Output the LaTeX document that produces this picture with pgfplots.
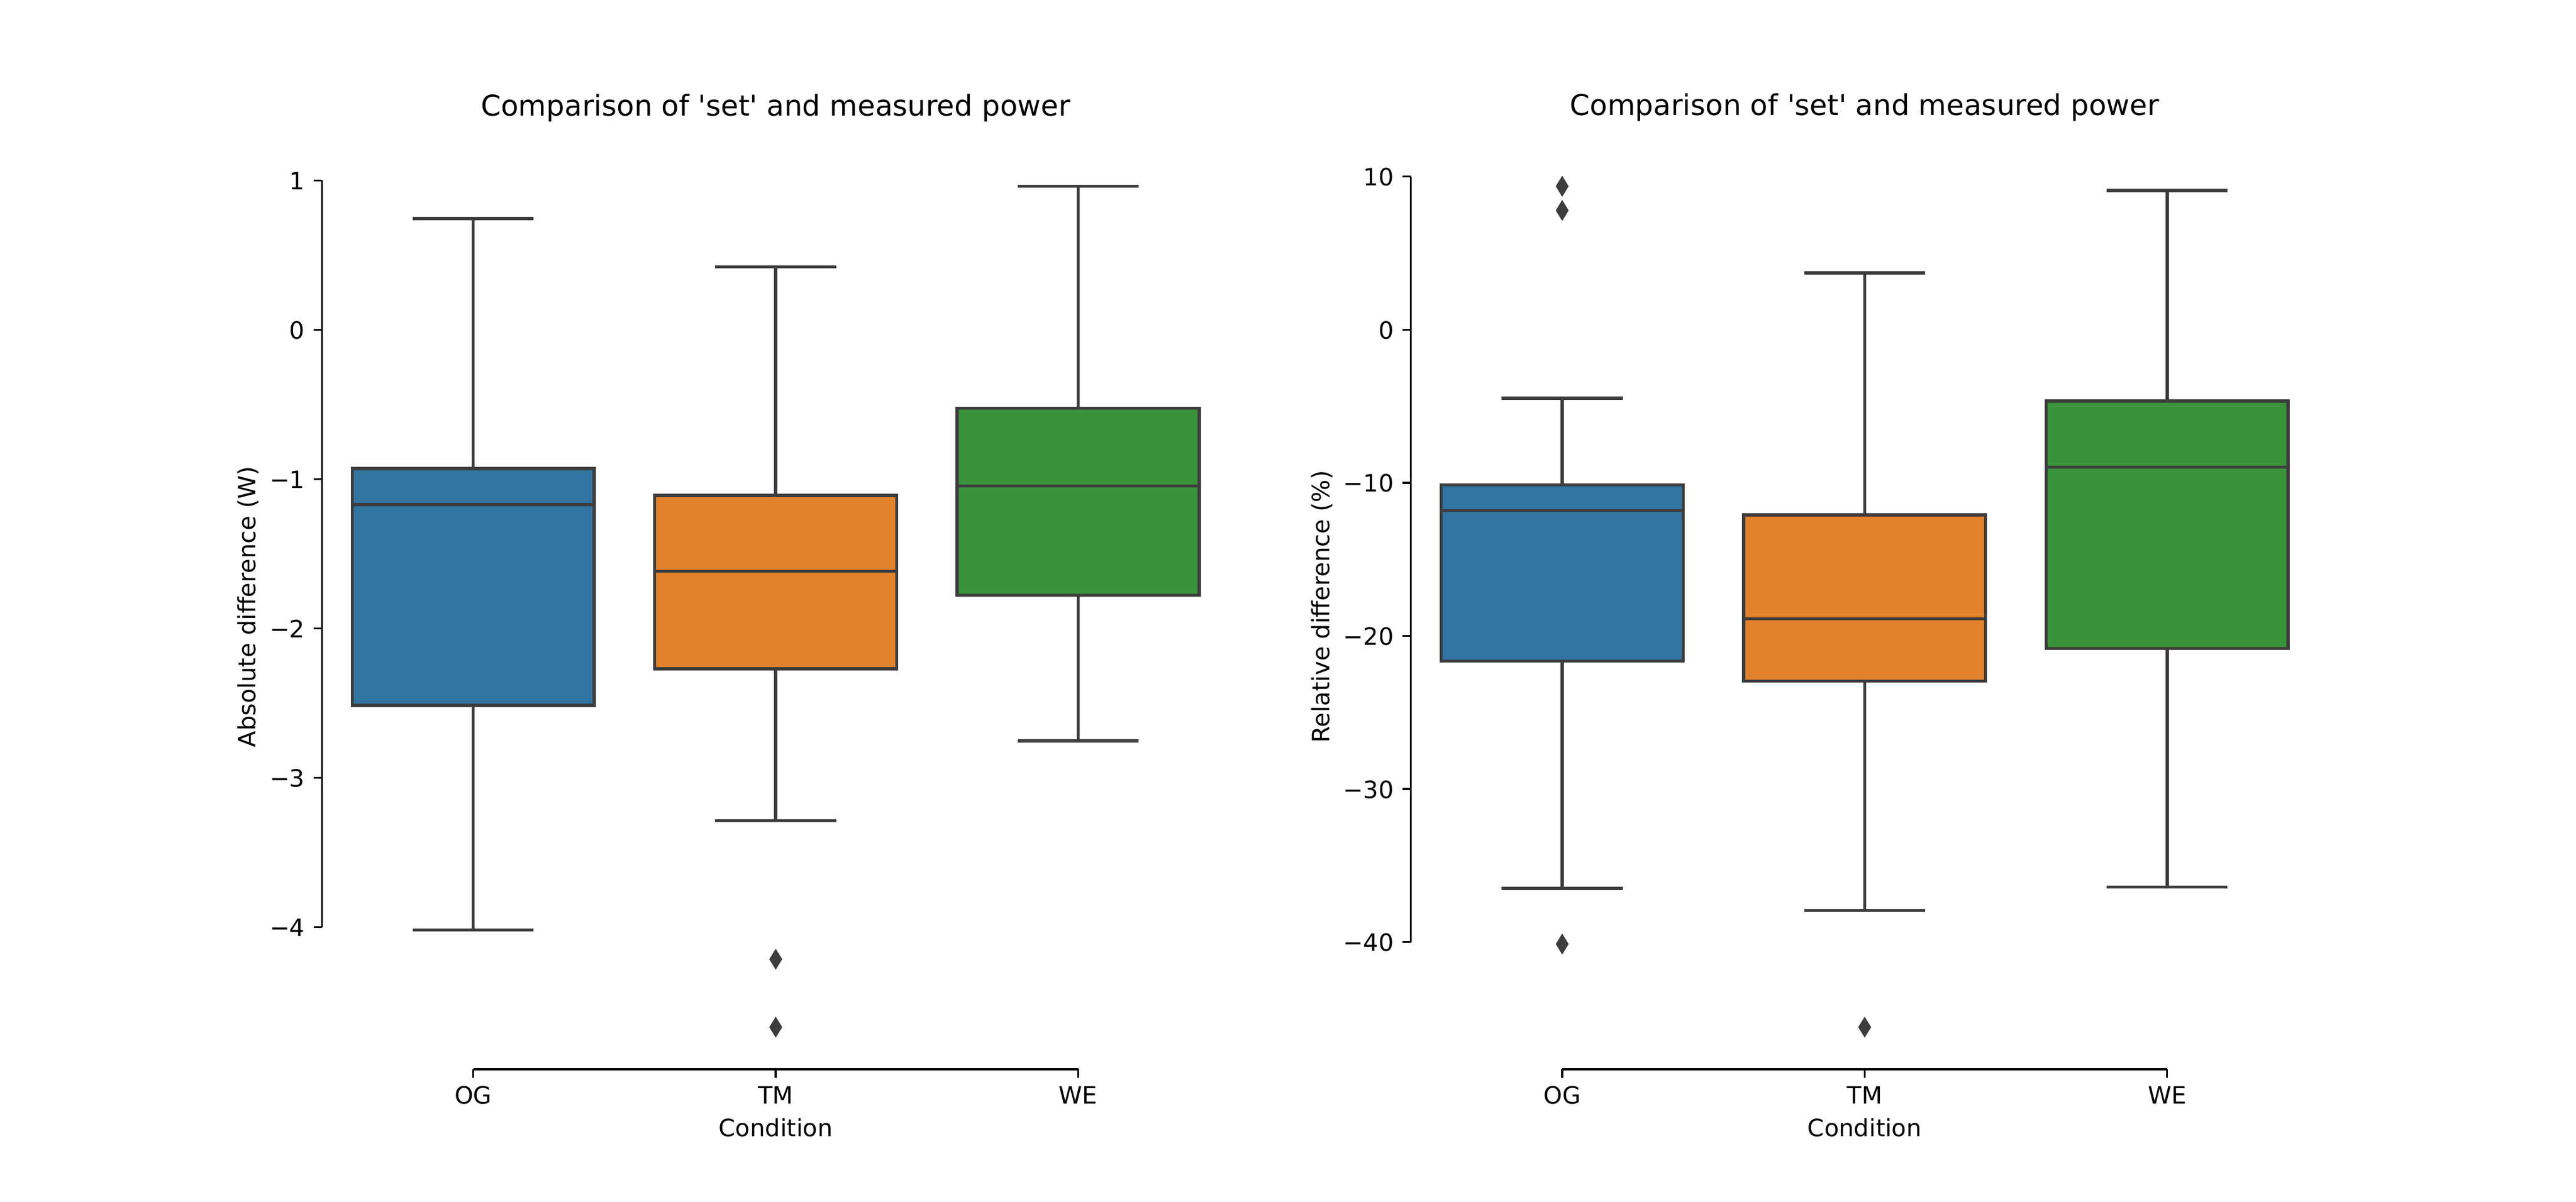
\documentclass[border=0pt]{standalone}
\usepackage{fontspec}
\setmainfont{DejaVu Sans}
\usepackage{pgfplots}
\pgfplotsset{compat=1.18}
\usepgfplotslibrary{statistics}
\definecolor{cblue}{RGB}{50,116,161}
\definecolor{corange}{RGB}{225,129,44}
\definecolor{cgreen}{RGB}{58,146,58}
\definecolor{lgray}{RGB}{61,61,61}
\pgfplotsset{
  mpl/.style={
    scale only axis, width=380.4545pt, height=388.08pt,
    anchor=south west,
    xmin=-0.5, xmax=2.5,
    xtick={0,1,2}, xticklabels={OG,TM,WE},
    axis x line*=bottom, axis y line*=left,
    axis line style={draw=none,-},
    tick align=outside, major tick length=3.5pt,
    tick style={black, line width=0.8pt},
    minor tick num=0,
    tick label style={font=\fontsize{10}{12}\selectfont, inner sep=0pt},
    yticklabel style={anchor=base east, xshift=-3.5pt, yshift=-3.84pt},
    xticklabel style={anchor=base, yshift=-10.9pt},
    clip=false,
    title style={at={(axis description cs:0.5,1)}, anchor=base, yshift=6pt, inner sep=0pt, font=\fontsize{12}{14}\selectfont},
    title={Comparison of \textquotesingle set\textquotesingle\ and measured power},
    xlabel style={at={(axis description cs:0.5,0)}, anchor=base, yshift=-28.1pt, inner sep=0pt, font=\fontsize{10}{12}\selectfont},
    xlabel={Condition},
    ylabel style={inner sep=0pt, font=\fontsize{10}{12}\selectfont},
    boxplot/draw direction=y,
  },
  bx/.style={draw=lgray, line width=1.3pt, solid,
    mark=diamond*, mark size=4.2pt,
    mark options={solid, fill=lgray, draw=lgray, line width=0.2pt, xscale=0.82}},
}
\begin{document}
\begin{tikzpicture}
\useasboundingbox (0,0) rectangle (1080pt,504pt);
% Left axis
\begin{axis}[mpl, at={(135pt,55.44pt)},
  ymin=-4.952, ymax=1.243,
  ytick={-4,-3,-2,-1,0,1}, yticklabels={−4,−3,−2,−1,0,1},
  ylabel={Absolute difference (W)},
  ylabel style={at={(axis description cs:0,0.5)}, anchor=base, yshift=27.8pt},
]
\addplot[bx, fill=cblue, boxplot prepared={draw position=0,
  lower whisker=-4.02, lower quartile=-2.516, median=-1.17,
  upper quartile=-0.929, upper whisker=0.745, box extend=0.8, whisker extend=0.4}]
  coordinates {};
\addplot[bx, fill=corange, boxplot prepared={draw position=1,
  lower whisker=-3.287, lower quartile=-2.27, median=-1.616,
  upper quartile=-1.11, upper whisker=0.422, box extend=0.8, whisker extend=0.4}]
  table[row sep=\\, y index=0] {data\\ -4.215\\ -4.67\\};
\addplot[bx, fill=cgreen, boxplot prepared={draw position=2,
  lower whisker=-2.753, lower quartile=-1.778, median=-1.045,
  upper quartile=-0.525, upper whisker=0.961, box extend=0.8, whisker extend=0.4}]
  coordinates {};
\draw[black, line width=0.8pt] (axis cs:-0.5,-4) -- (axis cs:-0.5,1);
\draw[black, line width=0.8pt] (axis cs:0,-4.952) -- (axis cs:2,-4.952);
\end{axis}
% Right axis
\begin{axis}[mpl, at={(591.545pt,55.44pt)},
  ymin=-48.31, ymax=12.12,
  ytick={-40,-30,-20,-10,0,10}, yticklabels={−40,−30,−20,−10,0,10},
  ylabel={Relative difference (\%)},
  ylabel style={at={(axis description cs:0,0.5)}, anchor=base, yshift=34.2pt},
]
\addplot[bx, fill=cblue, boxplot prepared={draw position=0,
  lower whisker=-36.50, lower quartile=-21.65, median=-11.82,
  upper quartile=-10.14, upper whisker=-4.48, box extend=0.8, whisker extend=0.4}]
  table[row sep=\\, y index=0] {data\\ 9.37\\ 7.79\\ -40.13\\};
\addplot[bx, fill=corange, boxplot prepared={draw position=1,
  lower whisker=-37.95, lower quartile=-22.96, median=-18.89,
  upper quartile=-12.09, upper whisker=3.71, box extend=0.8, whisker extend=0.4}]
  table[row sep=\\, y index=0] {data\\ -45.56\\};
\addplot[bx, fill=cgreen, boxplot prepared={draw position=2,
  lower whisker=-36.41, lower quartile=-20.83, median=-8.97,
  upper quartile=-4.66, upper whisker=9.10, box extend=0.8, whisker extend=0.4}]
  coordinates {};
\draw[black, line width=0.8pt] (axis cs:-0.5,-40) -- (axis cs:-0.5,10);
\draw[black, line width=0.8pt] (axis cs:0,-48.31) -- (axis cs:2,-48.31);
\end{axis}
\end{tikzpicture}
\end{document}
